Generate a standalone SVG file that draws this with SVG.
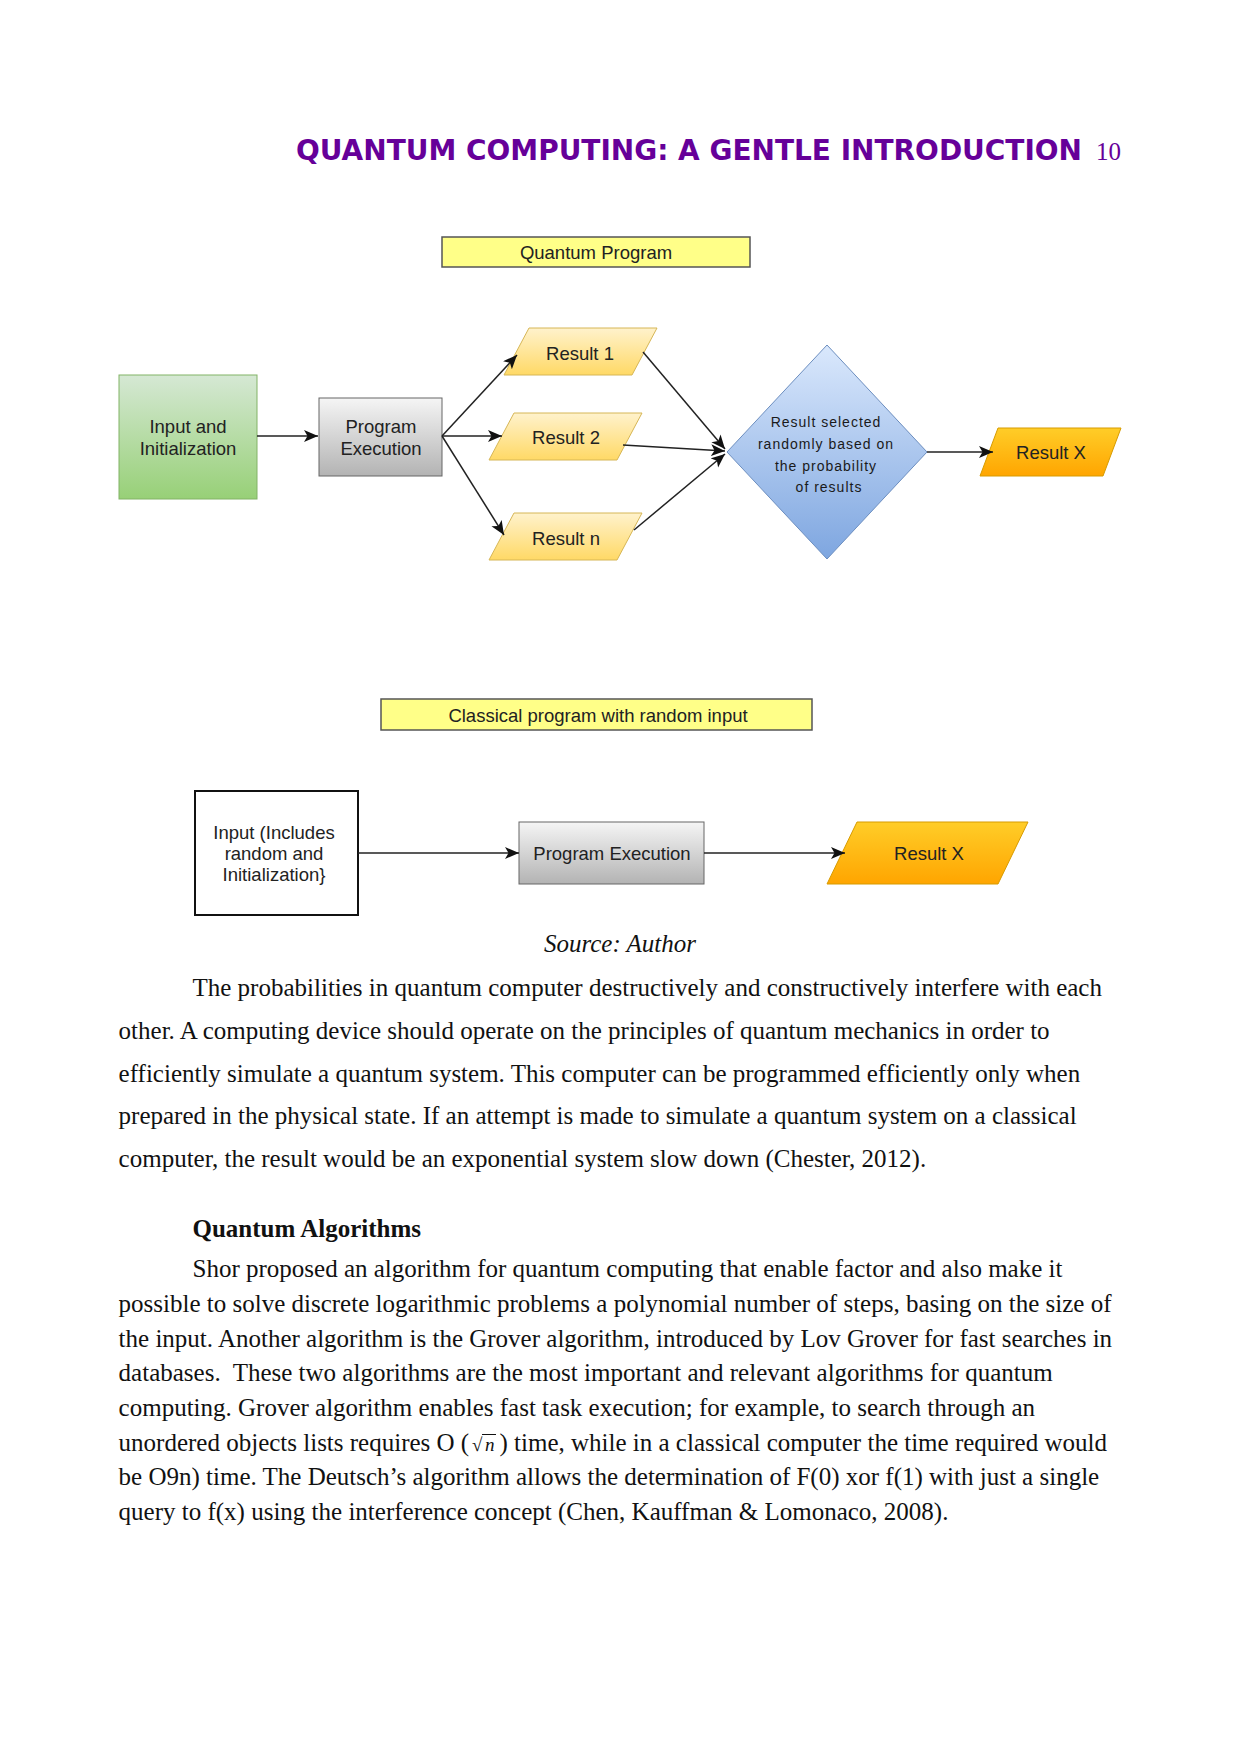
<svg xmlns="http://www.w3.org/2000/svg" width="1241" height="1754" viewBox="0 0 1241 1754">
<defs>
<linearGradient id="gGreen" x1="0" y1="0" x2="0" y2="1"><stop offset="0" stop-color="#d5e8d4"/><stop offset="1" stop-color="#97d077"/></linearGradient>
<linearGradient id="gGray" x1="0" y1="0" x2="0" y2="1"><stop offset="0" stop-color="#f5f5f5"/><stop offset="1" stop-color="#b3b3b3"/></linearGradient>
<linearGradient id="gBlue" x1="0" y1="0" x2="0" y2="1"><stop offset="0" stop-color="#dae8fc"/><stop offset="1" stop-color="#7ea6e0"/></linearGradient>
<linearGradient id="gYel" x1="0" y1="0" x2="0" y2="1"><stop offset="0" stop-color="#fff2cc"/><stop offset="1" stop-color="#ffd966"/></linearGradient>
<linearGradient id="gOr" x1="0" y1="0" x2="0" y2="1"><stop offset="0" stop-color="#ffcd28"/><stop offset="1" stop-color="#ffa500"/></linearGradient>
<marker id="arr" markerUnits="userSpaceOnUse" markerWidth="16" markerHeight="14" refX="14" refY="6" orient="auto">
<path d="M0,0 L14,6 L0,12 L3.5,6 z" fill="#111"/>
</marker>
</defs>
<style>
.dg{font-family:"Liberation Sans",Arial,sans-serif;font-size:18.5px;fill:#222;text-anchor:middle}
.dm{font-family:"Liberation Sans",Arial,sans-serif;font-size:14px;fill:#1a1a1a;text-anchor:middle;letter-spacing:1px}
.body{font-family:"Liberation Serif","Times New Roman",serif;font-size:25px;fill:#111;white-space:pre}
.title{fill:#ffff88;stroke:#555;stroke-width:1.5}
.res{fill:url(#gYel);stroke:#d6b656;stroke-width:1}
.resx{fill:url(#gOr);stroke:#d79b00;stroke-width:1}
.con{stroke:#222;stroke-width:1.5;fill:none;marker-end:url(#arr)}
</style>
<rect width="1241" height="1754" fill="#ffffff"/>

<g id="header">
<text x="296" y="160" font-family="DejaVu Sans,sans-serif" font-weight="bold" font-size="28" fill="#660099" textLength="786" lengthAdjust="spacingAndGlyphs">QUANTUM COMPUTING: A GENTLE INTRODUCTION</text>
<text x="1096" y="160" font-family="Liberation Serif,serif" font-size="25" fill="#660099">10</text>
</g>

<g id="quantum-title">
<rect class="title" x="442" y="237" width="308" height="30"/>
<text class="dg" x="596" y="259">Quantum Program</text>
</g>

<g id="input-init">
<rect x="119" y="375" width="138" height="124" fill="url(#gGreen)" stroke="#82b366" stroke-width="1"/>
<text class="dg" x="188" y="433">Input and</text>
<text class="dg" x="188" y="455">Initialization</text>
</g>

<g id="program-exec">
<rect x="319" y="398" width="123" height="78" fill="url(#gGray)" stroke="#666" stroke-width="1"/>
<text class="dg" x="381" y="433">Program</text>
<text class="dg" x="381" y="455">Execution</text>
</g>

<g id="result-1">
<polygon class="res" points="529,328 657,328 632,375 504,375"/>
<text class="dg" x="580" y="359.5">Result 1</text>
</g>
<g id="result-2">
<polygon class="res" points="514,413 642,413 617,460 489,460"/>
<text class="dg" x="566" y="444">Result 2</text>
</g>
<g id="result-n">
<polygon class="res" points="514,513 642,513 617,560 489,560"/>
<text class="dg" x="566" y="544.5">Result n</text>
</g>

<g id="decision">
<polygon points="827,345 927,452 827,559 727,452" fill="url(#gBlue)" stroke="#6c8ebf" stroke-width="1"/>
<text class="dm" x="826" y="427">Result selected</text>
<text class="dm" x="826" y="449">randomly based on</text>
<text class="dm" x="826" y="471">the probability</text>
<text class="dm" x="829" y="492">of results</text>
</g>

<g id="result-x">
<polygon class="resx" points="998,428 1121,428 1103,476 980,476"/>
<text class="dg" x="1051" y="459">Result X</text>
</g>

<g id="classical-title">
<rect class="title" x="381" y="699" width="431" height="31"/>
<text class="dg" x="598" y="721.5">Classical program with random input</text>
</g>

<g id="input-random">
<rect x="195" y="791" width="163" height="124" fill="#fff" stroke="#111" stroke-width="2"/>
<text class="dg" x="274" y="838.5">Input (Includes</text>
<text class="dg" x="274" y="860">random and</text>
<text class="dg" x="274" y="881">Initialization}</text>
</g>

<g id="program-exec-2">
<rect x="519" y="822" width="185" height="62" fill="url(#gGray)" stroke="#666" stroke-width="1"/>
<text class="dg" x="612" y="859.5">Program Execution</text>
</g>

<g id="result-x-2">
<polygon class="resx" points="857,822 1028,822 998,884 827,884"/>
<text class="dg" x="929" y="859.5">Result X</text>
</g>

<g id="connectors">
<line class="con" x1="257" y1="436" x2="318" y2="436"/>
<line class="con" x1="442" y1="436" x2="517" y2="355"/>
<line class="con" x1="442" y1="436" x2="502" y2="436"/>
<line class="con" x1="442" y1="436" x2="504" y2="535"/>
<line class="con" x1="643" y1="352" x2="725" y2="449"/>
<line class="con" x1="623" y1="445" x2="725" y2="451"/>
<line class="con" x1="634" y1="530" x2="725" y2="454"/>
<line class="con" x1="927" y1="452" x2="993" y2="452"/>
<line class="con" x1="358" y1="853" x2="519" y2="853"/>
<line class="con" x1="704" y1="853" x2="845" y2="853"/>
</g>

<g id="text-body">
<text x="620" y="952" font-family="Liberation Serif,serif" font-size="25" font-style="italic" fill="#111" text-anchor="middle">Source: Author</text>
<text class="body" x="192.5" y="996">The probabilities in quantum computer destructively and constructively interfere with each</text>
<text class="body" x="118.6" y="1039">other. A computing device should operate on the principles of quantum mechanics in order to</text>
<text class="body" x="118.6" y="1082">efficiently simulate a quantum system. This computer can be programmed efficiently only when</text>
<text class="body" x="118.6" y="1124">prepared in the physical state. If an attempt is made to simulate a quantum system on a classical</text>
<text class="body" x="118.6" y="1167">computer, the result would be an exponential system slow down (Chester, 2012).</text>
<text class="body" x="192.5" y="1237" font-weight="bold">Quantum Algorithms</text>
<text class="body" x="192.5" y="1277">Shor proposed an algorithm for quantum computing that enable factor and also make it</text>
<text class="body" x="118.6" y="1312">possible to solve discrete logarithmic problems a polynomial number of steps, basing on the size of</text>
<text class="body" x="118.6" y="1346.5">the input. Another algorithm is the Grover algorithm, introduced by Lov Grover for fast searches in</text>
<text class="body" x="118.6" y="1381">databases.  These two algorithms are the most important and relevant algorithms for quantum</text>
<text class="body" x="118.6" y="1416">computing. Grover algorithm enables fast task execution; for example, to search through an</text>
<text class="body" x="118.6" y="1450.5">unordered objects lists requires O (</text>
<text x="472" y="1450.5" font-family="Liberation Serif,serif" font-size="19" fill="#111">√</text>
<text x="485" y="1450.5" font-family="Liberation Serif,serif" font-size="19" font-style="italic" fill="#111">n</text>
<line x1="482" y1="1434.5" x2="496" y2="1434.5" stroke="#111" stroke-width="1"/>
<text class="body" x="499.5" y="1450.5">) time, while in a classical computer the time required would</text>
<text class="body" x="118.6" y="1485">be O9n) time. The Deutsch’s algorithm allows the determination of F(0) xor f(1) with just a single</text>
<text class="body" x="118.6" y="1520">query to f(x) using the interference concept (Chen, Kauffman &amp; Lomonaco, 2008).</text>
</g>
</svg>
